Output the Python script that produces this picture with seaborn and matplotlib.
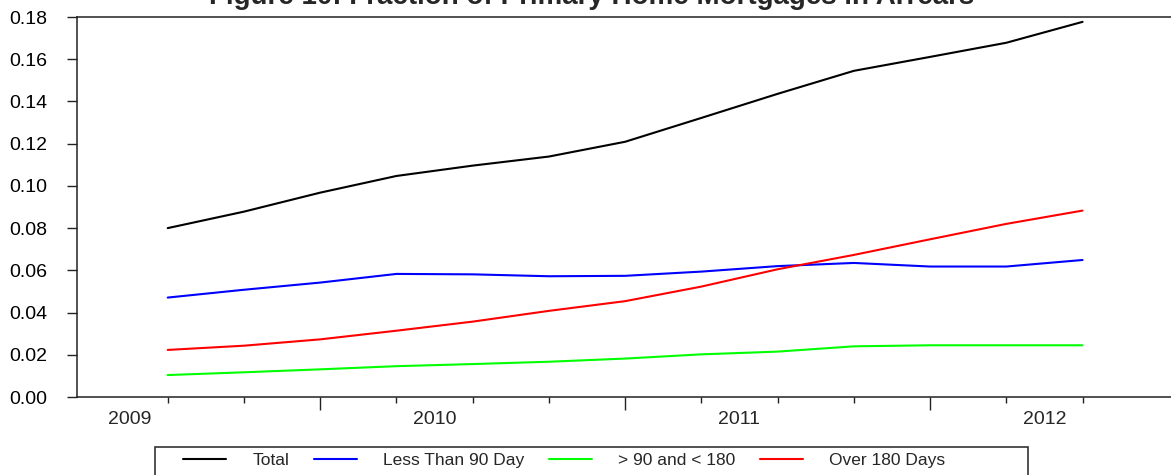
import matplotlib
matplotlib.use("Agg")
import matplotlib.pyplot as plt
from matplotlib.patches import Rectangle
import seaborn as sns
import pandas as pd


# quarterly observations, 13 quarters
quarters = list(range(13))
total = [0.0800, 0.0878, 0.0968, 0.1047, 0.1096, 0.1139, 0.1209,
         0.1322, 0.1436, 0.1545, 0.1611, 0.1678, 0.1777]
less_90 = [0.0471, 0.0508, 0.0542, 0.0583, 0.0581, 0.0572, 0.0574,
           0.0594, 0.0620, 0.0635, 0.0618, 0.0618, 0.0649]
between_90_180 = [0.0104, 0.0117, 0.0131, 0.0146, 0.0156, 0.0167, 0.0182,
                  0.0202, 0.0215, 0.0240, 0.0245, 0.0245, 0.0245]
over_180 = [0.0223, 0.0243, 0.0273, 0.0314, 0.0357, 0.0408, 0.0454,
            0.0523, 0.0605, 0.0673, 0.0747, 0.0820, 0.0883]

series_names = ["Total", "Less Than 90 Day", "> 90 and < 180", "Over 180 Days"]
series_colors = ["#000000", "#0000ff", "#00ff00", "#ff0000"]
year_labels = ["2009", "2010", "2011", "2012"]
year_label_pos = [-0.5, 3.5, 7.5, 11.5]
long_tick_pos = [2, 6, 10]
y_ticks = [0.00, 0.02, 0.04, 0.06, 0.08, 0.10, 0.12, 0.14, 0.16, 0.18]

df = pd.DataFrame({"quarter": quarters,
                   series_names[0]: total,
                   series_names[1]: less_90,
                   series_names[2]: between_90_180,
                   series_names[3]: over_180})
df = df.melt(id_vars="quarter", var_name="series", value_name="value")

sns.set_theme(style="ticks")
plt.rcParams["font.family"] = ["Liberation Sans", "DejaVu Sans"]

W, H = 1171, 475
fig = plt.figure(figsize=(W / 100, H / 100), dpi=100)
ax = fig.add_axes([77 / W, 78 / H, 1 - 77 / W, 380 / H])

sns.lineplot(data=df, x="quarter", y="value", hue="series",
             hue_order=series_names, palette=dict(zip(series_names, series_colors)),
             linewidth=1.5, ax=ax)
handles, labels = ax.get_legend_handles_labels()
ax.get_legend().remove()

ax.set_xlim(-1.19, 13.16)
ax.set_ylim(0, 0.18)
ax.set_xlabel("")
ax.set_ylabel("")
ax.spines["right"].set_visible(False)
for side in ["left", "bottom", "top"]:
    ax.spines[side].set_color("#222222")
    ax.spines[side].set_linewidth(1.1)

ax.set_yticks(y_ticks)
ax.set_yticklabels([f"{v:.2f}" for v in y_ticks])
ax.tick_params(axis="y", length=7.5, width=1, pad=14, labelsize=14, colors="#222222", labelcolor="black")

ax.set_xticks(quarters)
ax.set_xticklabels([""] * len(quarters))
ax.set_xticks(year_label_pos, minor=True)
ax.set_xticklabels(year_labels, minor=True)
ax.tick_params(axis="x", which="major", length=4.5, width=1, colors="#222222")
ax.tick_params(axis="x", which="minor", length=0, pad=10, labelsize=14)
for i, t in enumerate(ax.xaxis.get_major_ticks()):
    if quarters[i] in long_tick_pos:
        t.tick1line.set_markersize(9.5)

# title sits above the top edge, as in the source image
fig.text(0.505, 1 - 4 / H, "Figure 10: Fraction of Primary Home Mortgages in Arrears",
         ha="center", va="baseline", fontsize=20, fontweight="bold")

# legend box in R style, wider than its content and cut by the figure edge
fig.patches.append(Rectangle((155 / W, -0.1), (1028 - 155) / W, 0.1 + (H - 447) / H,
                             transform=fig.transFigure, fill=False,
                             edgecolor="#333333", linewidth=1.2))
fig.legend(handles, labels, loc="center left", bbox_to_anchor=(176 / W, 1 - 460 / H),
           ncol=4, frameon=False, fontsize=12.5, handlelength=2.5,
           handletextpad=1.5, columnspacing=1.4, borderaxespad=0)

fig.savefig("out.png", dpi=100)
